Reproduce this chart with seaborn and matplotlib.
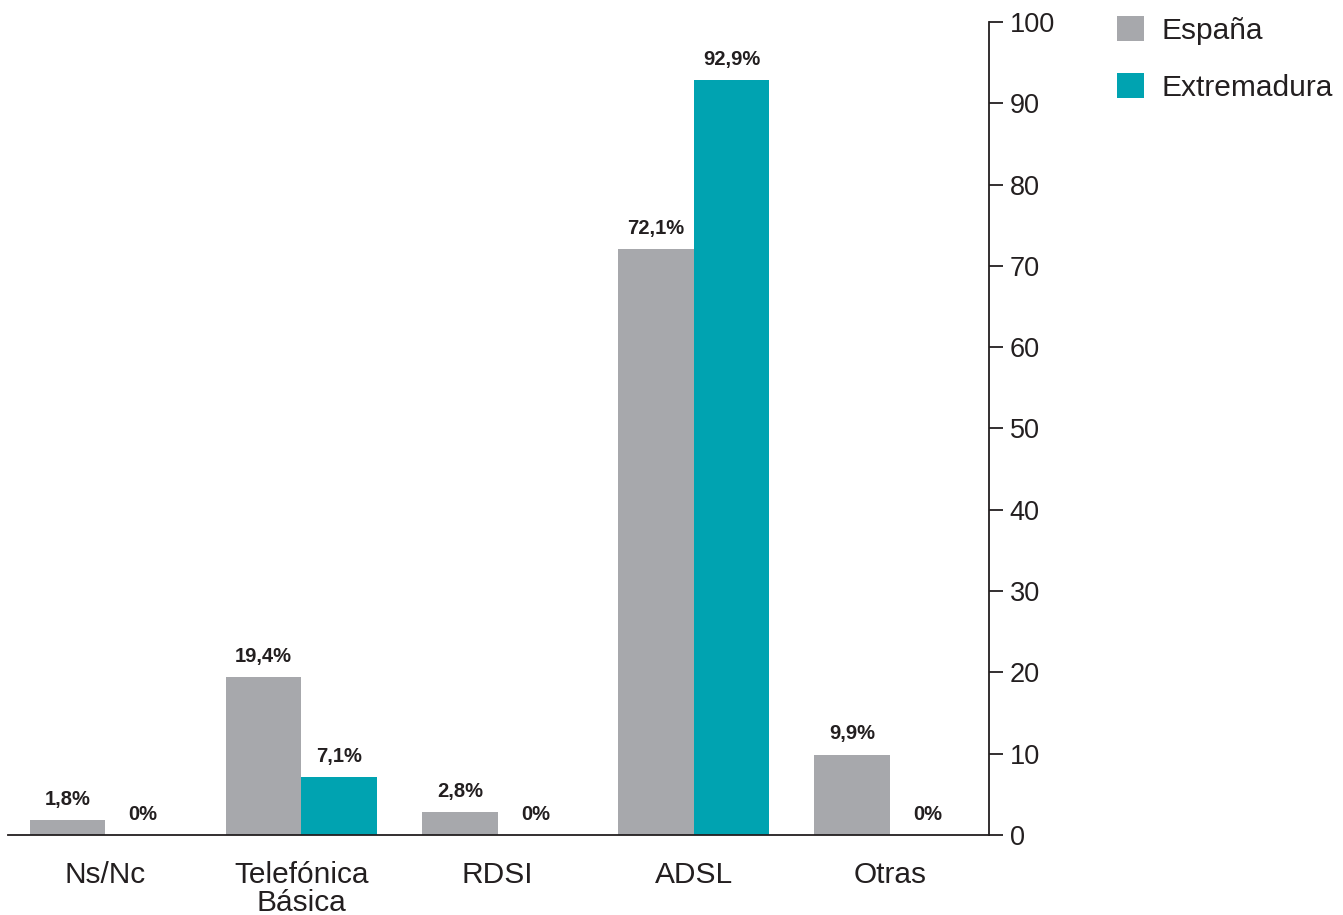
import matplotlib
matplotlib.use("Agg")
import matplotlib.pyplot as plt
import seaborn as sns
import pandas as pd
from matplotlib.patches import Patch

categories = ["Ns/Nc", "Telefónica\nBásica", "RDSI", "ADSL", "Otras"]
espana = [1.8, 19.4, 2.8, 72.1, 9.9]
extremadura = [0.0, 7.1, 0.0, 92.9, 0.0]
series = ["España", "Extremadura"]
yticks = [0, 10, 20, 30, 40, 50, 60, 70, 80, 90, 100]

colors = {"España": "#a7a8ac", "Extremadura": "#00a3b1"}
txt = "#231f20"

df = pd.DataFrame({
    "cat": categories * 2,
    "serie": [series[0]] * 5 + [series[1]] * 5,
    "val": espana + extremadura,
})

sns.set_style("white")
plt.rcParams["font.family"] = ["Liberation Sans", "DejaVu Sans"]

fig = plt.figure(figsize=(13.43, 9.15), dpi=100)
ax = fig.add_axes([8 / 1343, 1 - 835 / 915, (989 - 8) / 1343, (835 - 22) / 915])

sns.barplot(data=df, x="cat", y="val", hue="serie", order=categories,
            hue_order=series, palette=colors, width=0.77, saturation=1,
            edgecolor="none", linewidth=0, legend=False, ax=ax)

ax.set_xlim(-0.495, 4.505)
ax.set_ylim(0, 100)
ax.set_xlabel("")
ax.set_ylabel("")

for c in ax.containers:
    for bar in c:
        h = bar.get_height()
        lab = "0%" if h == 0 else f"{h:.1f}".replace(".", ",") + "%"
        ax.annotate(lab, (bar.get_x() + bar.get_width() / 2, h),
                    xytext=(0, 8), textcoords="offset points",
                    ha="center", va="bottom", fontsize=14.5,
                    fontweight="bold", color=txt)

ax.yaxis.tick_right()
ax.set_yticks(yticks)
ax.set_yticklabels([str(t) for t in yticks], fontsize=19.5, color=txt)
ax.tick_params(axis="y", direction="out", length=10, width=1.3, color=txt, pad=5)
ax.tick_params(axis="x", length=0, pad=19, labelsize=21.5, labelcolor=txt)
for lbl in ax.get_xticklabels():
    lbl.set_linespacing(1.0)

for s in ["top", "left"]:
    ax.spines[s].set_visible(False)
for s in ["right", "bottom"]:
    ax.spines[s].set_visible(True)
    ax.spines[s].set_color(txt)
    ax.spines[s].set_linewidth(1.3)

handles = [Patch(facecolor=colors[s], edgecolor="none", label=s) for s in series]
fig.legend(handles=handles, loc="upper left", bbox_to_anchor=(1117 / 1343, 1 - 16 / 915),
           frameon=False, fontsize=21.5, handlelength=0.9, handleheight=0.9,
           handletextpad=0.6, labelspacing=0.95, labelcolor=txt,
           borderpad=0, borderaxespad=0)

fig.savefig("out.png", dpi=100)
